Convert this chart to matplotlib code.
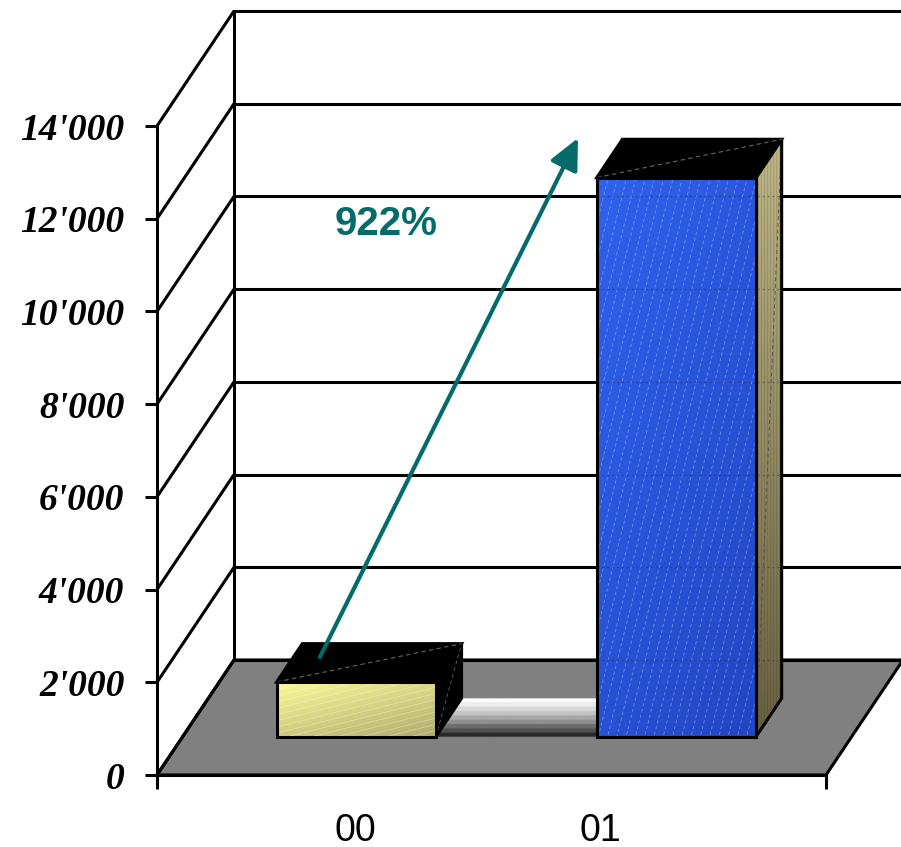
import numpy as np
import matplotlib
matplotlib.use("Agg")
import matplotlib.pyplot as plt
from matplotlib.patches import Polygon
from matplotlib.collections import LineCollection

# ---- data ----
categories = ["00", "01"]
values = [1180, 12060]
growth_label = "922%"
y_ticks = [0, 2000, 4000, 6000, 8000, 10000, 12000, 14000]
y_tick_labels = ["0", "2'000", "4'000", "6'000", "8'000", "10'000", "12'000", "14'000"]

# ---- figure / front plane axes ----
W, H, DPI = 901, 847, 100
fig = plt.figure(figsize=(W / DPI, H / DPI), dpi=DPI)
ax_left, ax_right, ax_bottom, ax_top = 157, 826, 775, 126
ax = fig.add_axes([ax_left / W, (H - ax_bottom) / H,
                   (ax_right - ax_left) / W, (ax_bottom - ax_top) / H])
ax.set_xlim(0, 2)
ax.set_ylim(0, 14000)
ax.patch.set_visible(False)

# oblique depth offset (full floor depth), in data units
px_x = 2 / (ax_right - ax_left)
px_y = 14000 / (ax_bottom - ax_top)
DX = 77 * px_x
DY = 115 * px_y


def P(x, v, d):
    return (x + d * DX, v + d * DY)


LW = 2.2
floor_gray = "#808080"

# floor
floor = Polygon([P(0, 0, 0), P(2, 0, 0), P(2, 0, 1), P(0, 0, 1)], closed=True,
                facecolor=floor_gray, edgecolor="black", lw=LW, clip_on=False,
                joinstyle="miter", zorder=1)
ax.add_patch(floor)

# walls and gridlines
xmax_back = 2 + 1.2 * DX
for t in y_ticks:
    ax.plot([P(0, t, 0)[0], P(0, t, 1)[0]], [P(0, t, 0)[1], P(0, t, 1)[1]],
            color="black", lw=LW, clip_on=False, zorder=2, solid_capstyle="butt")
    ax.plot([P(0, t, 1)[0], xmax_back], [P(0, t, 1)[1]] * 2,
            color="black", lw=LW, clip_on=False, zorder=2, solid_capstyle="butt")
ax.plot([P(0, 0, 1)[0]] * 2, [P(0, 0, 1)[1], P(0, 14000, 1)[1]],
        color="black", lw=LW, clip_on=False, zorder=2)

# bar geometry
bar_width = 0.476
bar_left = [0.281, 1.238]
d0, d1 = 1 / 3, 2 / 3


def clip_to(artist, poly):
    artist.set_clip_on(True)
    artist.set_clip_box(None)
    artist.set_clip_path(Polygon(poly, closed=True, transform=ax.transData))


def grad_image(poly, colors_fn, zorder, shape=(200, 200)):
    xs = [p[0] for p in poly]
    ys = [p[1] for p in poly]
    img = colors_fn(shape)
    im = ax.imshow(img, extent=[min(xs), max(xs), min(ys), max(ys)],
                   origin="upper", aspect="auto", interpolation="bilinear",
                   zorder=zorder)
    clip_to(im, poly)
    return im


def diag_gradient(c_tl, c_br):
    def fn(shape):
        h, w = shape
        yy, xx = np.mgrid[0:h, 0:w]
        t = (yy / (h - 1) * 0.6 + xx / (w - 1) * 0.4)[..., None]
        return (np.array(c_tl) * (1 - t) + np.array(c_br) * t) / 255.0
    return fn


def side_gradient(shape):
    h, w = shape
    yy, xx = np.mgrid[0:h, 0:w]
    t = (yy / (h - 1))[..., None]
    top = np.array([184, 174, 128])
    bot = np.array([100, 92, 62])
    base = top * (1 - t) + bot * t
    streak = (0.10 * np.sin(xx * 0.9) + 0.06 * np.sin(xx * 2.3))[..., None]
    return np.clip(base / 255.0 * (1 + streak), 0, 1)


def strip_gradient(shape):
    levels = [250, 236, 216, 196, 168, 144, 108, 80, 40]
    h, w = shape
    idx = np.minimum((np.arange(h) / h * len(levels)).astype(int), len(levels) - 1)
    g = np.array(levels)[idx] / 255.0
    return np.repeat(np.repeat(g[:, None, None], w, axis=1), 3, axis=2)


def hatch_lines(poly, slope_px, spacing_px, color, alpha, zorder, dashes=None):
    # thin decorative lines across a face, clipped to it
    xs = [p[0] for p in poly]
    ys = [p[1] for p in poly]
    x0, x1 = min(xs), max(xs)
    y0, y1 = min(ys), max(ys)
    slope = slope_px * px_y / px_x          # data units
    step = spacing_px * np.hypot(1, slope_px) * px_y
    c = y0 - slope * (x1 - x0) - step
    segs = []
    while c < y1 + step:
        segs.append([(x0, c), (x1, c + slope * (x1 - x0))])
        c += step
    lc = LineCollection(segs, colors=color, alpha=alpha, lw=0.6, zorder=zorder,
                        linestyles=dashes or "solid")
    ax.add_collection(lc)
    clip_to(lc, poly)


# shaded strip between the bars, on the floor
xs0 = bar_left[0] + bar_width
xs1 = bar_left[1]
strip = [P(xs0, 0, d0), P(xs1, 0, d0), P(xs1, 0, d1), P(xs0, 0, d1)]
grad_image(strip, strip_gradient, zorder=3, shape=(90, 10))

front_colors = [((252, 250, 152), (176, 170, 108)), ((48, 98, 238), (34, 70, 196))]
hatch_cfg = [(0.25, 6, "white", 0.35, None), (4.0, 9, "white", 0.35, (0, (4, 3)))]
side_fill = ["black", None]

for i, (xl, v) in enumerate(zip(bar_left, values)):
    z = 4 + i * 3
    xr = xl + bar_width
    front = [P(xl, 0, d0), P(xr, 0, d0), P(xr, v, d0), P(xl, v, d0)]
    side = [P(xr, 0, d0), P(xr, 0, d1), P(xr, v, d1), P(xr, v, d0)]
    top = [P(xl, v, d0), P(xr, v, d0), P(xr, v, d1), P(xl, v, d1)]

    # side face
    if side_fill[i] is not None:
        ax.add_patch(Polygon(side, closed=True, facecolor=side_fill[i],
                             edgecolor="black", lw=LW, clip_on=False, zorder=z))
    else:
        grad_image(side, side_gradient, zorder=z, shape=(200, 60))
        ax.add_patch(Polygon(side, closed=True, facecolor="none",
                             edgecolor="black", lw=LW, clip_on=False, zorder=z + 0.5,
                             joinstyle="miter"))
    # top face
    ax.add_patch(Polygon(top, closed=True, facecolor="black", edgecolor="black",
                         lw=LW, clip_on=False, zorder=z + 0.6, joinstyle="miter"))
    ax.plot([top[0][0], top[2][0]], [top[0][1], top[2][1]], color="#666666",
            lw=0.8, ls=(0, (4, 3)), clip_on=False, zorder=z + 0.7)
    ax.plot([side[0][0], side[2][0]], [side[0][1], side[2][1]], color="#555555",
            lw=0.7, ls=(0, (4, 3)), clip_on=False, zorder=z + 0.4)
    # front face
    grad_image(front, diag_gradient(*front_colors[i]), zorder=z + 1)
    sl, sp, hc, ha, hd = hatch_cfg[i]
    hatch_lines(front, sl, sp, hc, ha, z + 1.1, hd)
    ax.add_patch(Polygon(front, closed=True, facecolor="none", edgecolor="black",
                         lw=LW, clip_on=False, zorder=z + 1.5, joinstyle="miter"))

# back gridlines faintly visible through the tall bar
xl, v = bar_left[1], values[1]
for t in y_ticks:
    yb = P(0, t, 1)[1]
    if P(0, 0, d0)[1] < yb < P(0, v, d0)[1]:
        xa = P(xl, 0, d0)[0]
        xb = P(xl + bar_width, 0, d1)[0]
        ax.plot([xa, xb], [yb, yb], color="#1a1a40", lw=1.0, alpha=0.35,
                ls=(0, (1.5, 2)), clip_on=False, zorder=8.2)

# growth arrow and label
teal = "#046b6b"
ax.annotate("", xy=(1.2586, 13740), xytext=(0.487, 2545),
            arrowprops=dict(arrowstyle="-|>,head_length=0.95,head_width=0.45",
                            mutation_scale=20, color=teal, lw=3.0,
                            shrinkA=0, shrinkB=0),
            annotation_clip=False, zorder=20)
ax.text(0.6846, 11885, growth_label, color=teal, fontsize=29, fontweight="bold",
        family="Liberation Sans", ha="center", va="center", zorder=21)

# axes: spines and ticks
for s in ["top", "right"]:
    ax.spines[s].set_visible(False)
ax.spines["left"].set_linewidth(LW)
ax.spines["bottom"].set_linewidth(LW)
ax.spines["left"].set_zorder(12)
ax.spines["bottom"].set_zorder(12)

ax.set_yticks(y_ticks)
ax.set_yticklabels(y_tick_labels, family="Liberation Serif", fontweight="bold",
                   fontstyle="italic", fontsize=27)
ax.tick_params(axis="y", direction="out", length=8.5, width=LW, pad=15)

ax.set_xticks([0, 2])
ax.set_xticklabels(["", ""])
ax.tick_params(axis="x", which="major", direction="out", length=10, width=LW)
ax.set_xticks([0.592, 1.324], minor=True)
ax.set_xticklabels(categories, minor=True, family="Liberation Sans", fontsize=27)
ax.tick_params(axis="x", which="minor", length=0, pad=27)

fig.savefig("out.png", dpi=DPI)
